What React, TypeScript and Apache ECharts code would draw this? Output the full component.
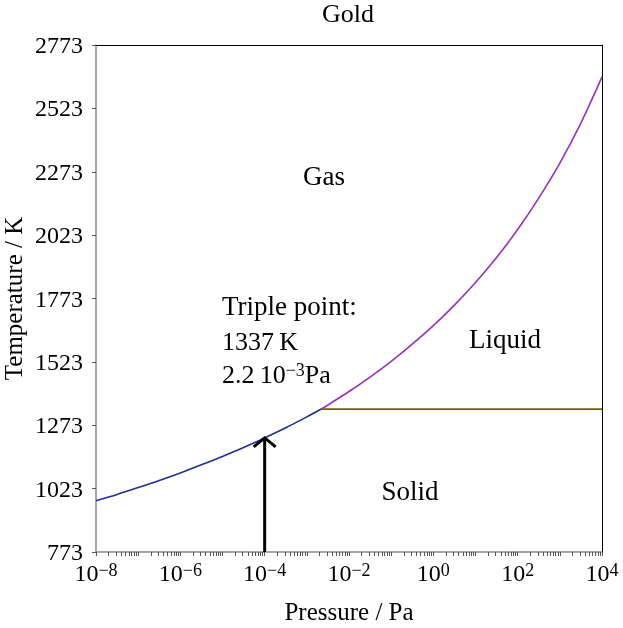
import { useEffect, useRef } from 'react';
import * as echarts from 'echarts';

// ---- data ----
const chartTitle = 'Gold';
const xAxisTitle = 'Pressure / Pa';
const yAxisTitle = 'Temperature / K';

const xLabelExponents = [-8, -6, -4, -2, 0, 2, 4];
const yTickValues = [773, 1023, 1273, 1523, 1773, 2023, 2273, 2523, 2773];

// Solid-gas (sublimation) curve, pressure in Pa, temperature in K
const sublimationP = [1e-8, 3.16e-8, 1e-7, 3.16e-7, 1e-6, 3.16e-6, 1e-5, 3.16e-5, 1e-4, 3.16e-4, 1e-3, 2.2e-3];
const sublimationT = [975, 1000, 1027, 1055, 1085, 1117, 1150, 1185, 1223, 1263, 1306, 1337];

// Liquid-gas (vaporization) curve
const vaporizationP = [2.2e-3, 3.16e-3, 1e-2, 3.16e-2, 1e-1, 3.16e-1, 1, 3.16, 10, 31.6, 100, 316, 1000, 3160, 1e4];
const vaporizationT = [1337, 1353, 1406, 1463, 1525, 1593, 1666, 1747, 1836, 1935, 2045, 2169, 2307, 2465, 2647];

// Solid-liquid (melting) line
const meltingP = [2.2e-3, 1e4];
const meltingT = [1337, 1337];

// Arrow annotation
const arrowP = 1e-4;
const arrowFromT = 773;
const arrowToT = 1223;

const FONT = 'Liberation Serif';

export default function App() {
  const ref = useRef<HTMLDivElement>(null);

  useEffect(() => {
    if (!ref.current) return;
    const chart = echarts.init(ref.current, undefined, { renderer: 'svg' });

    const toPairs = (ps: number[], ts: number[]) => ps.map((p, i) => [Math.log10(p), ts[i]]);

    // log-axis minor tick positions (1..9 x 10^n)
    const tickExps: number[] = [];
    for (let n = -8; n < 4; n++) {
      for (let k = 1; k <= 9; k++) tickExps.push(Math.log10(k) + n);
    }
    tickExps.push(4);

    const supRich = (size: number, supSize: number, raise: number) => ({
      b: { fontFamily: FONT, fontSize: size, lineHeight: size, color: '#000' },
      s: {
        fontFamily: FONT,
        fontSize: supSize,
        lineHeight: supSize,
        color: '#000',
        verticalAlign: 'top',
        padding: [0, 0, raise, 0],
      },
    });

    const option: any = {
      animation: false,
      title: {
        text: chartTitle,
        left: 348,
        top: 0,
        padding: 0,
        textAlign: 'center',
        textStyle: { fontFamily: FONT, fontSize: 26, fontWeight: 'normal', color: '#000' },
      },
      grid: { left: 96, right: 21, top: 45, bottom: 76, containLabel: false, outerBoundsMode: 'none' },
      xAxis: [
        {
          type: 'value',
          min: -8,
          max: 4,
          name: xAxisTitle,
          nameLocation: 'middle',
          nameGap: 46,
          nameMoveOverlap: false,
          nameTextStyle: { fontFamily: FONT, fontSize: 25, lineHeight: 26, color: '#000' },
          axisLine: { show: true, onZero: false, lineStyle: { color: '#888888', width: 1.5 } },
          axisTick: {
            show: true,
            customValues: tickExps,
            length: 4,
            inside: false,
            lineStyle: { color: '#555555', width: 1 },
          },
          axisLabel: {
            show: true,
            customValues: xLabelExponents,
            margin: 9,
            formatter: (v: number) => `{b|10}{s|${v < 0 ? '\u2212' : ''}${Math.abs(Math.round(v))}}`,
            rich: supRich(24, 18, 19),
          },
          splitLine: { show: false },
        },
        {
          type: 'value',
          min: -8,
          max: 4,
          position: 'top',
          axisLine: { show: true, onZero: false, lineStyle: { color: '#000', width: 1 } },
          axisTick: { show: false },
          axisLabel: { show: false },
          splitLine: { show: false },
        },
      ],
      yAxis: [
        {
          type: 'value',
          min: 773,
          max: 2773,
          position: 'left',
          name: yAxisTitle,
          nameLocation: 'middle',
          nameGap: 70,
          nameMoveOverlap: false,
          nameTextStyle: { fontFamily: FONT, fontSize: 25, lineHeight: 26, color: '#000' },
          axisLine: { show: true, onZero: false, lineStyle: { color: '#888888', width: 1.5 } },
          axisTick: {
            show: true,
            customValues: yTickValues,
            length: 4,
            lineStyle: { color: '#555555', width: 1 },
          },
          axisLabel: {
            show: true,
            customValues: yTickValues,
            margin: 13,
            formatter: (v: number) => String(Math.round(v)),
            fontFamily: FONT,
            fontSize: 24,
            color: '#000',
          },
          splitLine: { show: false },
        },
        {
          type: 'value',
          min: 773,
          max: 2773,
          position: 'right',
          axisLine: { show: true, onZero: false, lineStyle: { color: '#000', width: 1 } },
          axisTick: { show: false },
          axisLabel: { show: false },
          splitLine: { show: false },
        },
      ],
      series: [
        {
          name: 'Sublimation',
          type: 'line',
          xAxisIndex: 0,
          yAxisIndex: 0,
          data: toPairs(sublimationP, sublimationT),
          showSymbol: false,
          symbol: 'none',
          smooth: 0.3,
          lineStyle: { color: '#1f2f96', width: 1.6 },
          z: 3,
        },
        {
          name: 'Vaporization',
          type: 'line',
          xAxisIndex: 0,
          yAxisIndex: 0,
          data: toPairs(vaporizationP, vaporizationT),
          showSymbol: false,
          symbol: 'none',
          smooth: 0.3,
          lineStyle: { color: '#9a30b8', width: 1.6 },
          z: 3,
        },
        {
          name: 'Melting',
          type: 'line',
          xAxisIndex: 0,
          yAxisIndex: 0,
          data: toPairs(meltingP, meltingT),
          showSymbol: false,
          symbol: 'none',
          lineStyle: { color: '#736000', width: 1.8 },
          z: 2,
        },
        {
          name: 'Arrow',
          type: 'custom',
          xAxisIndex: 0,
          yAxisIndex: 0,
          data: [[Math.log10(arrowP), arrowFromT, Math.log10(arrowP), arrowToT]],
          encode: { x: [0, 2], y: [1, 3] },
          z: 5,
          renderItem: (_params: any, api: any) => {
            const a = api.coord([api.value(0), api.value(1)]);
            const b = api.coord([api.value(2), api.value(3)]);
            return {
              type: 'group',
              children: [
                {
                  type: 'line',
                  shape: { x1: a[0], y1: a[1], x2: b[0], y2: b[1] + 1 },
                  style: { stroke: '#000', lineWidth: 3 },
                },
                {
                  type: 'polyline',
                  shape: { points: [[b[0] - 11, b[1] + 9], [b[0], b[1]], [b[0] + 11, b[1] + 9]] },
                  style: { stroke: '#000', lineWidth: 3, fill: null },
                },
              ],
            };
          },
        },
      ],
      graphic: [
        {
          type: 'text',
          x: 324,
          y: 176,
          style: { text: 'Gas', fontFamily: FONT, fontSize: 27, fill: '#000', align: 'center', verticalAlign: 'middle' },
        },
        {
          type: 'text',
          x: 505,
          y: 339,
          style: { text: 'Liquid', fontFamily: FONT, fontSize: 27, fill: '#000', align: 'center', verticalAlign: 'middle' },
        },
        {
          type: 'text',
          x: 410,
          y: 491,
          style: { text: 'Solid', fontFamily: FONT, fontSize: 27, fill: '#000', align: 'center', verticalAlign: 'middle' },
        },
        {
          type: 'text',
          x: 222,
          y: 306,
          style: { text: 'Triple point:', fontFamily: FONT, fontSize: 27, fill: '#000', align: 'left', verticalAlign: 'middle' },
        },
        {
          type: 'text',
          x: 222,
          y: 341,
          style: { text: '1337\u2009K', fontFamily: FONT, fontSize: 26, fill: '#000', align: 'left', verticalAlign: 'middle' },
        },
        {
          type: 'text',
          x: 222,
          y: 374,
          style: {
            text: '{b|2.2\u200910}{s|\u22123}{b|Pa}',
            rich: supRich(26, 18, 19),
            align: 'left',
            verticalAlign: 'middle',
          },
        },
      ],
    };

    chart.setOption(option);
    return () => chart.dispose();
  }, []);

  return <div ref={ref} style={{ position: 'fixed', left: 0, top: 0, width: 623, height: 628 }} />;
}
